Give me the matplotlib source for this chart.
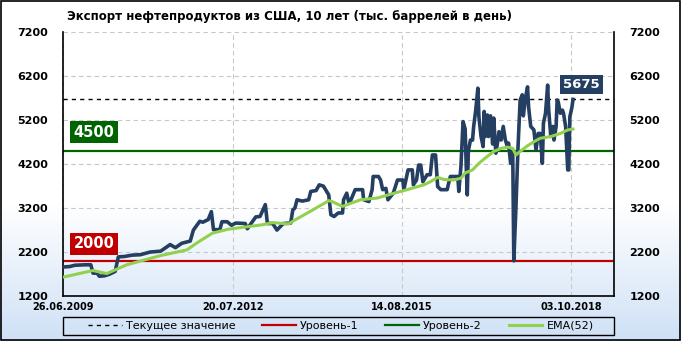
import numpy as np
import matplotlib
matplotlib.use("Agg")
import matplotlib.pyplot as plt
from matplotlib.colors import LinearSegmentedColormap
from matplotlib.patches import Rectangle

# weekly index from 26.06.2009 and export, thousand barrels per day
weeks = [0, 6, 11, 21, 26, 28, 32, 34, 39, 44, 49, 52, 58, 65, 73, 82, 92, 101, 106, 112,
         120, 123, 129, 132, 137, 140, 142, 148, 150, 155, 159, 163, 172, 174, 179, 182, 186,
         191, 193, 198, 202, 208, 215, 217, 219, 221, 226, 232, 234, 239, 242, 246, 249, 251,
         253, 256, 260, 264, 265, 268, 270, 272, 276, 283, 284, 289, 292, 293, 298, 300, 302,
         305, 307, 312, 316, 321, 322, 324, 326, 330, 331, 334, 336, 338, 340, 344, 347, 349,
         352, 354, 357, 363, 364, 366, 373, 374, 376, 378, 380, 381, 382, 383, 385, 387, 388,
         390, 392, 393, 395, 397, 398, 399, 401, 402, 404, 406, 407, 409, 411, 412, 414, 415,
         416, 418, 420, 421, 423, 425, 426, 428, 430, 431, 432, 434, 435, 437, 439, 440, 442,
         445, 447, 449, 451, 453, 454, 456, 458, 459, 461, 463, 464, 466, 467, 468, 470, 472,
         473, 475, 477, 478, 479, 481, 482]
export = [1860, 1870, 1900, 1910, 1910, 1720, 1720, 1650, 1660, 1700, 1760, 2090, 2100, 2130,
          2140, 2200, 2220, 2370, 2300, 2400, 2450, 2700, 2900, 2880, 2940, 3120, 2710, 2710,
          2890, 2890, 2810, 2860, 2850, 2730, 2900, 3000, 3010, 3280, 2850, 2850, 2700, 2850,
          2860, 3160, 3200, 3390, 3360, 3390, 3580, 3600, 3730, 3700, 3580, 3500, 3050, 3010,
          3090, 3090, 3390, 3540, 3320, 3390, 3620, 3620, 3390, 3350, 3620, 3920, 3920, 3840,
          3620, 3650, 3390, 3540, 3840, 3840, 3620, 3840, 4070, 4070, 3730, 3840, 4180, 4180,
          3800, 3960, 3960, 4410, 4410, 3690, 3620, 3620, 3730, 3920, 3920, 3580, 4150, 5170,
          5000, 4150, 3500, 4500, 4750, 4750, 5050, 5430, 5930, 5280, 4830, 4600, 5400, 4830,
          5320, 4830, 5300, 4660, 5250, 4450, 4750, 4940, 4750, 4900, 5060, 4750, 4600, 4680,
          4220, 4450, 2000, 3200, 4600, 5130, 5660, 5780, 5300, 5700, 5960, 5500, 5060, 4980,
          4520, 4900, 4900, 4220, 5130, 5360, 6000, 5430, 4830, 5060, 4750, 5060, 5660, 5620,
          5360, 5430, 5360, 5060, 4070, 4070, 5280, 5500, 5675]

ema_weeks = [0, 28, 41, 60, 92, 117, 124, 129, 141, 156, 172, 188, 198, 213, 219, 236, 251,
             254, 264, 281, 297, 307, 325, 341, 347, 354, 360, 369, 376, 380, 387, 393, 399,
             407, 414, 420, 425, 428, 432, 439, 445, 451, 461, 470, 477, 482]
ema52 = [1630, 1780, 1710, 1910, 2120, 2250, 2370, 2450, 2630, 2720, 2770, 2820, 2870, 2840,
         2930, 3160, 3370, 3350, 3240, 3390, 3430, 3500, 3620, 3730, 3800, 3900, 3850, 3840,
         3880, 4000, 4070, 4220, 4340, 4490, 4560, 4590, 4560, 4410, 4490, 4620, 4710, 4790,
         4830, 4900, 4980, 5000]

level1 = 2000
level2 = 4500
current = 5675
tick_weeks = [0, 160, 320, 480]
tick_labels = ["26.06.2009", "20.07.2012", "14.08.2015", "03.10.2018"]
y_ticks = [1200, 2200, 3200, 4200, 5200, 6200, 7200]

navy = "#243f62"
red = "#c00000"
green = "#006400"
ema_col = "#92d050"

fig = plt.figure(figsize=(6.81, 3.41), dpi=100)

# gradient background, white to light blue
bg = fig.add_axes([0, 0, 1, 1], zorder=-10)
grad = np.linspace(0, 1, 256)
grad = np.clip((grad - 0.6) / 0.4, 0, 1)[:, None]
cmap = LinearSegmentedColormap.from_list("bg", ["#ffffff", "#cfe1f6"])
bg.imshow(grad, aspect="auto", cmap=cmap, extent=[0, 1, 0, 1], origin="upper")
bg.axis("off")
fig.patches.append(Rectangle((0.001, 0.002), 0.997, 0.995, transform=fig.transFigure,
                             fill=False, edgecolor="black", lw=1.2))
# legend frame
fig.patches.append(Rectangle((0.0925, 0.0176), 0.809, 0.0528, transform=fig.transFigure,
                             fill=False, edgecolor="black", lw=1))

ax = fig.add_axes([0.093, 0.132, 0.809, 0.773])
ax.set_facecolor("none")

ax.axhline(current, color="black", lw=1, ls=(0, (3, 3)), zorder=2, label="Текущее значение")
ax.axhline(level1, color=red, lw=1.6, zorder=2, label="Уровень-1")
ax.axhline(level2, color=green, lw=1.6, zorder=2, label="Уровень-2")
ax.plot(weeks, export, color=navy, lw=2.6, zorder=3, solid_joinstyle="round")
ax.plot(ema_weeks, ema52, color=ema_col, lw=2.2, zorder=4, label="EMA(52)")

ax.set_xlim(0, 521)
ax.set_ylim(1200, 7200)
ax.set_yticks(y_ticks)
ax.set_xticks(tick_weeks)
ax.set_xticklabels(tick_labels, fontsize=7, fontweight="bold")
ax.tick_params(axis="y", which="both", length=0, pad=11, labelsize=8,
               labelright=True, right=False)
ax.tick_params(axis="x", length=0, pad=4)
for lab in ax.get_yticklabels():
    lab.set_fontweight("bold")
ax.grid(True, color="#c8c8c8", ls=(0, (4, 3)), lw=0.8, zorder=0)
ax.spines["top"].set_visible(False)
for s in ["left", "right", "bottom"]:
    ax.spines[s].set_color("black")
    ax.spines[s].set_linewidth(1.2)

box = dict(boxstyle="square,pad=0.25", ec="none")
ax.text(29, 4930, "4500", color="white", fontsize=10.5, fontweight="bold",
        ha="center", va="center", bbox=dict(box, fc=green), zorder=6)
ax.text(29, 2390, "2000", color="white", fontsize=10.5, fontweight="bold",
        ha="center", va="center", bbox=dict(box, fc=red), zorder=6)
ax.text(490, 6014, "5675", color="white", fontsize=9.5, fontweight="bold",
        ha="center", va="center", bbox=dict(box, fc=navy), zorder=6)

fig.text(0.098, 0.953, "Экспорт нефтепродуктов из США, 10 лет (тыс. баррелей в день)",
         fontsize=8.5, fontweight="bold", ha="left", va="center")

leg = fig.legend(loc="center", bbox_to_anchor=(0.5007, 0.044), ncol=4, fontsize=8,
                 frameon=False, handlelength=3.0, handletextpad=0.4, columnspacing=2.4,
                 borderpad=0, borderaxespad=0)

fig.savefig("out.png", dpi=100)
